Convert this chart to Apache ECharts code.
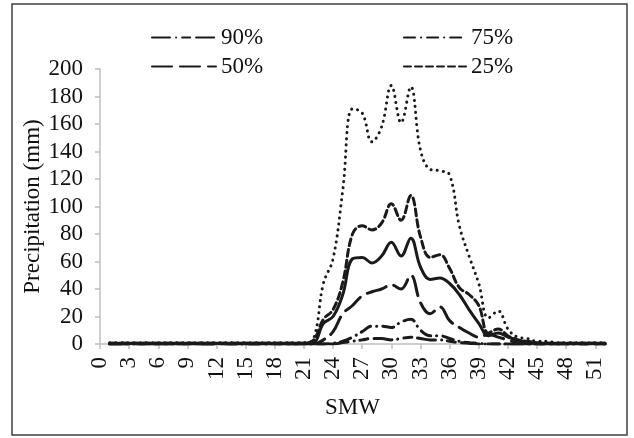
<!DOCTYPE html>
<html>
<head>
<meta charset="utf-8">
<script src="https://cdn.jsdelivr.net/npm/echarts@6/dist/echarts.min.js"></script>
<style>
  html, body { margin: 0; padding: 0; background: #fff; }
  #chart { width: 634px; height: 438px; }
</style>
</head>
<body>
<div id="chart"></div>
<script>
// standard meteorological weeks 0..52
const weeks = ['0','1','2','3','4','5','6','7','8','9','10','11','12','13','14','15','16','17','18','19','20',
  '21','22','23','24','25','26','27','28','29','30','31','32','33','34','35','36','37','38','39','40',
  '41','42','43','44','45','46','47','48','49','50','51','52'];

// weekly precipitation (mm), week 0 has no value
const p10 = ['-', 1,1,1,1,1,1,1,1,1,1, 1,1,1,1,1,1,1,1,1,1, 1,4,44,62,112,171,168,147,158,188,
  161,187,141,127,126,123,86,64,44,19, 24,11,5,4,2,2,1,1,1,1, 1,1];
const p25 = ['-', 0.5,0.5,0.5,0.5,0.5,0.5,0.5,0.5,0.5,0.5, 0.5,0.5,0.5,0.5,0.5,0.5,0.5,0.5,0.5,0.5,
  0.5,3,18,25,45,80,86,83,88,102, 90,108,78,63,65,55,41,36,28,8, 11,6,3,2,1,0.5,0.5,0.5,0.5,0.5, 0.5,0.5];
const mean = ['-', 0.5,0.5,0.5,0.5,0.5,0.5,0.5,0.5,0.5,0.5, 0.5,0.5,0.5,0.5,0.5,0.5,0.5,0.5,0.5,0.5,
  0.5,1,15,20,36,62,63,59,64,74, 64,77,56,47,48,44,36,25,15,6, 8,5,3,1,0.5,0.5,0.5,0.5,0.5,0.5, 0.5,0.5];
const p50 = ['-', 0,0,0,0,0,0,0,0,0,0, 0,0,0,0,0,0,0,0,0,0, 0,0,3,9,22,28,35,38,40,43,
  40,50,30,22,27,17,12,8,5,7, 5,3,1,0,0,0,0,0,0,0, 0,0];
const p75 = ['-', 0,0,0,0,0,0,0,0,0,0, 0,0,0,0,0,0,0,0,0,0, 0,0,0,0.5,2,5,9,13,13,12,
  16,18,10,6,6,4,2,1,0.5,0, 0,0,0,0,0,0,0,0,0,0, 0,0];
const p90 = ['-', 0,0,0,0,0,0,0,0,0,0, 0,0,0,0,0,0,0,0,0,0, 0,0,0,0,1,2,3,4,4,3,
  4,5,4,3,3,2,1,0.5,0,0, 0,0,0,0,0,0,0,0,0,0, 0,0];

const yTicks = { min: 0, max: 200, step: 20 };

const ink = '#1a1a1a';
const font = "'Liberation Serif', 'Times New Roman', serif";

function line(name, data, dash, z) {
  return {
    name: name,
    type: 'line',
    data: data,
    smooth: 0.4,
    symbol: 'none',
    z: z,
    lineStyle: { color: ink, width: 3, type: dash, cap: 'round' },
    itemStyle: { color: ink }
  };
}

const legendText = { fontFamily: font, fontSize: 23, color: '#111', lineHeight: 23 };

const chart = echarts.init(document.getElementById('chart'));
chart.setOption({
  animation: false,
  graphic: [{
    type: 'rect',
    shape: { x: 12, y: 4, width: 615, height: 431 },
    style: { fill: 'none', stroke: '#404040', lineWidth: 1.5 },
    silent: true
  }],
  legend: [
    {
      data: ['90%', '50%'],
      orient: 'vertical',
      left: 146, top: 21,
      itemWidth: 64, itemHeight: 14, itemGap: 6,
      itemStyle: { opacity: 0 },
      textStyle: legendText
    },
    {
      data: ['75%', '25%'],
      orient: 'vertical',
      left: 398, top: 21,
      itemWidth: 62, itemHeight: 14, itemGap: 6,
      itemStyle: { opacity: 0 },
      textStyle: legendText
    }
  ],
  grid: { left: 100, right: 29, top: 69, bottom: 94 },
  xAxis: {
    type: 'category',
    data: weeks,
    boundaryGap: false,
    name: 'SMW',
    nameLocation: 'middle',
    nameGap: 52,
    nameMoveOverlap: false,
    nameTextStyle: { fontFamily: font, fontSize: 23, color: '#111' },
    axisLine: { lineStyle: { color: '#bfbfbf', width: 1.5 } },
    axisTick: { interval: 2, length: 5, lineStyle: { color: '#bfbfbf', width: 1.5 } },
    axisLabel: { interval: 2, rotate: 90, margin: 13, fontFamily: font, fontSize: 23, color: '#111' },
    splitLine: { show: false }
  },
  yAxis: {
    type: 'value',
    min: yTicks.min, max: yTicks.max, interval: yTicks.step,
    name: 'Precipitation (mm)',
    nameLocation: 'middle',
    nameGap: 56,
    nameMoveOverlap: false,
    nameTextStyle: { fontFamily: font, fontSize: 23, color: '#111' },
    axisLine: { show: true, lineStyle: { color: '#bfbfbf', width: 1.5 } },
    axisTick: { show: true, length: 5, lineStyle: { color: '#bfbfbf', width: 1.5 } },
    axisLabel: { margin: 17, fontFamily: font, fontSize: 23, color: '#111' },
    splitLine: { show: false }
  },
  series: [
    line('10%', p10, [0.1, 6], 2),
    line('25%', p25, [7, 4], 3),
    line('Mean', mean, 'solid', 4),
    line('50%', p50, [20, 8], 5),
    line('75%', p75, [11, 6, 0.1, 6], 6),
    line('90%', p90, [18, 6, 0.1, 6, 8, 6], 7)
  ]
});
</script>
</body>
</html>
